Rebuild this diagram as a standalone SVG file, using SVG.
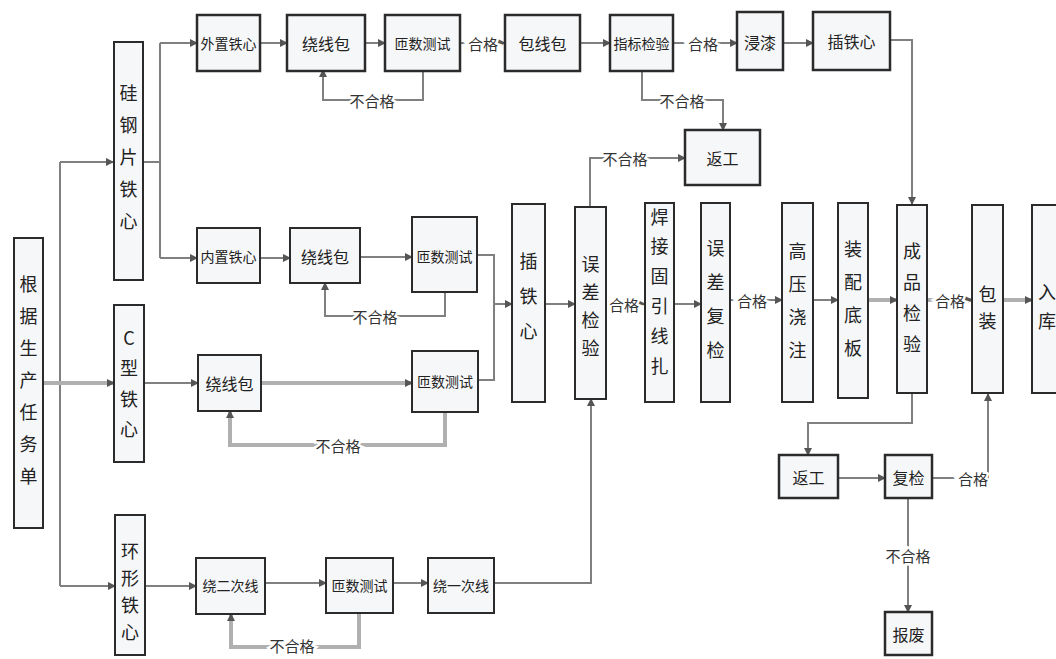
<svg xmlns="http://www.w3.org/2000/svg" width="1056" height="659" viewBox="0 0 1056 659">
<style>
.box{fill:#f6f7f9;stroke:#2b2b2b;stroke-width:2}
.bx2{fill:#f6f7f9;stroke:#2b2b2b;stroke-width:2.5}
.t{font-family:"Noto Sans CJK SC","Liberation Serif",serif;font-size:16px;fill:#222;text-anchor:middle;dominant-baseline:central}
.t4{font-size:14px}
.v{font-family:"Noto Sans CJK SC","Liberation Serif",serif;font-size:18px;fill:#222;text-anchor:middle;dominant-baseline:central}
.lbl{font-family:"Noto Sans CJK SC","Liberation Serif",serif;font-size:15px;fill:#333;text-anchor:middle;dominant-baseline:central;stroke:#fff;stroke-width:5;paint-order:stroke}
.c{fill:none;stroke:#808080;stroke-width:2}
.ca{fill:none;stroke:#808080;stroke-width:2;marker-end:url(#ah)}
.ck{fill:none;stroke:#b0b0b0;stroke-width:4;marker-end:url(#ah)}
</style>
<defs>
<marker id="ah" markerWidth="8" markerHeight="8" refX="7" refY="4" orient="auto" markerUnits="userSpaceOnUse">
<path d="M0,0 L8,4 L0,8 Z" fill="#555"/>
</marker>
</defs>
<rect width="1056" height="659" fill="#fff"/>

<g id="connectors">
<path class="c" d="M60,162 V586"/>
<path class="ca" d="M60,162 H113"/>
<path class="ca" d="M60,586 H115"/>
<path class="ck" d="M43,383 H114"/>
<path class="c" d="M143,162 H160 M160,43 V258"/>
<path class="ca" d="M160,43 H197"/>
<path class="ca" d="M160,258 H197"/>
<path class="ca" d="M260,43 H287"/>
<path class="ca" d="M365,43 H385"/>
<path class="ca" d="M423,70 V100 H323 V70"/>
<path class="ca" d="M460,43 H505"/>
<path class="ca" d="M580,43 H610"/>
<path class="ca" d="M673,43 H737"/>
<path class="ca" d="M783,43 H813"/>
<path class="ca" d="M890,40 H912 V204"/>
<path class="ca" d="M642,70 V100 H723 V130"/>
<path class="ca" d="M260,258 H290"/>
<path class="ca" d="M360,257 H412"/>
<path class="ca" d="M445,292 V316 H325 V283"/>
<path class="ca" d="M144,383 H198"/>
<path class="ck" d="M262,383 H412"/>
<path class="ck" d="M445,412 V445 H230 V411"/>
<path class="c" d="M477,255 H494 V380 H478"/>
<path class="ca" d="M494,304 H512"/>
<path class="ca" d="M545,304 H575"/>
<path class="ca" d="M590,207 V158 H685"/>
<path class="ca" d="M606,304 H645"/>
<path class="ca" d="M674,304 H701"/>
<path class="ca" d="M730,300 H782"/>
<path class="ca" d="M813,300 H838"/>
<path class="ck" d="M868,300 H897"/>
<path class="ck" d="M927,300 H972"/>
<path class="ck" d="M1003,300 H1032"/>
<path class="ca" d="M912,393 V423 H808 V455"/>
<path class="ca" d="M838,478 H885"/>
<path class="ca" d="M932,478 H988 V394"/>
<path class="ca" d="M908,498 V612"/>
<path class="ca" d="M145,586 H196"/>
<path class="ca" d="M265,583 H326"/>
<path class="ck" d="M359,613 V647 H231 V614"/>
<path class="ca" d="M393,583 H428"/>
<path class="ca" d="M494,583 H591 V399"/>
<text class="lbl" x="372" y="100">不合格</text>
<text class="lbl" x="483" y="43">合格</text>
<text class="lbl" x="703" y="43">合格</text>
<text class="lbl" x="682" y="100">不合格</text>
<text class="lbl" x="375" y="316">不合格</text>
<text class="lbl" x="338" y="445">不合格</text>
<text class="lbl" x="625" y="158">不合格</text>
<text class="lbl" x="624" y="304">合格</text>
<text class="lbl" x="752" y="300">合格</text>
<text class="lbl" x="950" y="300">合格</text>
<text class="lbl" x="973" y="478">合格</text>
<text class="lbl" x="908" y="555">不合格</text>
<text class="lbl" x="292" y="645">不合格</text>
</g>

<g id="n-task"><rect class="box" x="14" y="238" width="29" height="290"/>
<text class="v"><tspan x="28.5" y="283">根</tspan><tspan x="28.5" y="315">据</tspan><tspan x="28.5" y="347">生</tspan><tspan x="28.5" y="379">产</tspan><tspan x="28.5" y="411">任</tspan><tspan x="28.5" y="443">务</tspan><tspan x="28.5" y="475">单</tspan></text></g>

<g id="n-sigang"><rect class="box" x="114" y="42" width="29" height="238"/>
<text class="v"><tspan x="128.5" y="92">硅</tspan><tspan x="128.5" y="124">钢</tspan><tspan x="128.5" y="156">片</tspan><tspan x="128.5" y="188">铁</tspan><tspan x="128.5" y="220">心</tspan></text></g>

<g id="n-ctype"><rect class="box" x="114" y="305" width="30" height="157"/>
<text class="v"><tspan x="129" y="337">C</tspan><tspan x="129" y="367">型</tspan><tspan x="129" y="398">铁</tspan><tspan x="129" y="428">心</tspan></text></g>

<g id="n-ring"><rect class="box" x="115" y="515" width="30" height="140"/>
<text class="v"><tspan x="130" y="550">环</tspan><tspan x="130" y="577">形</tspan><tspan x="130" y="604">铁</tspan><tspan x="130" y="631">心</tspan></text></g>

<g id="n-waizhi"><rect class="bx2" x="197" y="15" width="63" height="56"/><text class="t t4" x="228.5" y="43">外置铁心</text></g>
<g id="n-rao1"><rect class="bx2" x="287" y="15" width="78" height="56"/><text class="t" x="326" y="43">绕线包</text></g>
<g id="n-zashu1"><rect class="bx2" x="385" y="15" width="75" height="56"/><text class="t t4" x="422.5" y="43">匝数测试</text></g>
<g id="n-baoxian"><rect class="bx2" x="505" y="15" width="75" height="56"/><text class="t" x="542.5" y="43">包线包</text></g>
<g id="n-zhibiao"><rect class="bx2" x="610" y="15" width="63" height="56"/><text class="t t4" x="641.5" y="43">指标检验</text></g>
<g id="n-jinqi"><rect class="bx2" x="737" y="12" width="46" height="58"/><text class="t" x="760" y="42">浸漆</text></g>
<g id="n-chatie1"><rect class="bx2" x="813" y="12" width="77" height="58"/><text class="t" x="851.5" y="41">插铁心</text></g>
<g id="n-fangong1"><rect class="bx2" x="685" y="130" width="75" height="55"/><text class="t" x="722.5" y="158">返工</text></g>

<g id="n-neizhi"><rect class="box" x="197" y="228" width="63" height="55"/><text class="t t4" x="228.5" y="256">内置铁心</text></g>
<g id="n-rao2"><rect class="box" x="290" y="228" width="70" height="55"/><text class="t" x="325" y="256">绕线包</text></g>
<g id="n-zashu2"><rect class="box" x="412" y="217" width="65" height="75"/><text class="t t4" x="444.5" y="256">匝数测试</text></g>

<g id="n-rao3"><rect class="box" x="198" y="355" width="63" height="56"/><text class="t" x="229.5" y="383">绕线包</text></g>
<g id="n-zashu3"><rect class="box" x="412" y="351" width="66" height="61"/><text class="t t4" x="445" y="381">匝数测试</text></g>

<g id="n-chatie2"><rect class="box" x="512" y="204" width="33" height="198"/>
<text class="v"><tspan x="528.5" y="260">插</tspan><tspan x="528.5" y="295">铁</tspan><tspan x="528.5" y="330">心</tspan></text></g>
<g id="n-wucha"><rect class="box" x="575" y="207" width="31" height="192"/>
<text class="v"><tspan x="590.5" y="263">误</tspan><tspan x="590.5" y="291">差</tspan><tspan x="590.5" y="319">检</tspan><tspan x="590.5" y="347">验</tspan></text></g>
<g id="n-hanjie"><rect class="box" x="645" y="203" width="29" height="199"/>
<text class="v"><tspan x="659.5" y="216">焊</tspan><tspan x="659.5" y="245">接</tspan><tspan x="659.5" y="275">固</tspan><tspan x="659.5" y="305">引</tspan><tspan x="659.5" y="335">线</tspan><tspan x="659.5" y="365">扎</tspan></text></g>
<g id="n-fujian1"><rect class="box" x="701" y="203" width="29" height="199"/>
<text class="v"><tspan x="715.5" y="247">误</tspan><tspan x="715.5" y="281">差</tspan><tspan x="715.5" y="315">复</tspan><tspan x="715.5" y="349">检</tspan></text></g>
<g id="n-gaoya"><rect class="box" x="782" y="203" width="31" height="199"/>
<text class="v"><tspan x="797.5" y="250">高</tspan><tspan x="797.5" y="283">压</tspan><tspan x="797.5" y="316">浇</tspan><tspan x="797.5" y="349">注</tspan></text></g>
<g id="n-zhuangpei"><rect class="box" x="838" y="203" width="30" height="195"/>
<text class="v"><tspan x="853" y="248">装</tspan><tspan x="853" y="281">配</tspan><tspan x="853" y="314">底</tspan><tspan x="853" y="347">板</tspan></text></g>
<g id="n-chengpin"><rect class="box" x="897" y="205" width="30" height="188"/>
<text class="v"><tspan x="912" y="250">成</tspan><tspan x="912" y="281">品</tspan><tspan x="912" y="312">检</tspan><tspan x="912" y="343">验</tspan></text></g>
<g id="n-baozhuang"><rect class="box" x="972" y="205" width="31" height="188"/>
<text class="v"><tspan x="987.5" y="293">包</tspan><tspan x="987.5" y="320">装</tspan></text></g>
<g id="n-ruku"><rect class="box" x="1032" y="205" width="31" height="188"/>
<text class="v"><tspan x="1047" y="291">入</tspan><tspan x="1047" y="320">库</tspan></text></g>

<g id="n-fangong2"><rect class="bx2" x="779" y="455" width="59" height="43"/><text class="t" x="808.5" y="477">返工</text></g>
<g id="n-fujian2"><rect class="bx2" x="885" y="455" width="47" height="43"/><text class="t" x="908.5" y="477">复检</text></g>
<g id="n-baofei"><rect class="bx2" x="885" y="612" width="47" height="43"/><text class="t" x="908.5" y="634">报废</text></g>

<g id="n-raoer"><rect class="box" x="196" y="558" width="69" height="56"/><text class="t t4" x="230.5" y="585">绕二次线</text></g>
<g id="n-zashu4"><rect class="box" x="326" y="558" width="67" height="55"/><text class="t t4" x="359.5" y="585">匝数测试</text></g>
<g id="n-raoyi"><rect class="box" x="428" y="558" width="66" height="55"/><text class="t t4" x="461" y="585">绕一次线</text></g>
</svg>
